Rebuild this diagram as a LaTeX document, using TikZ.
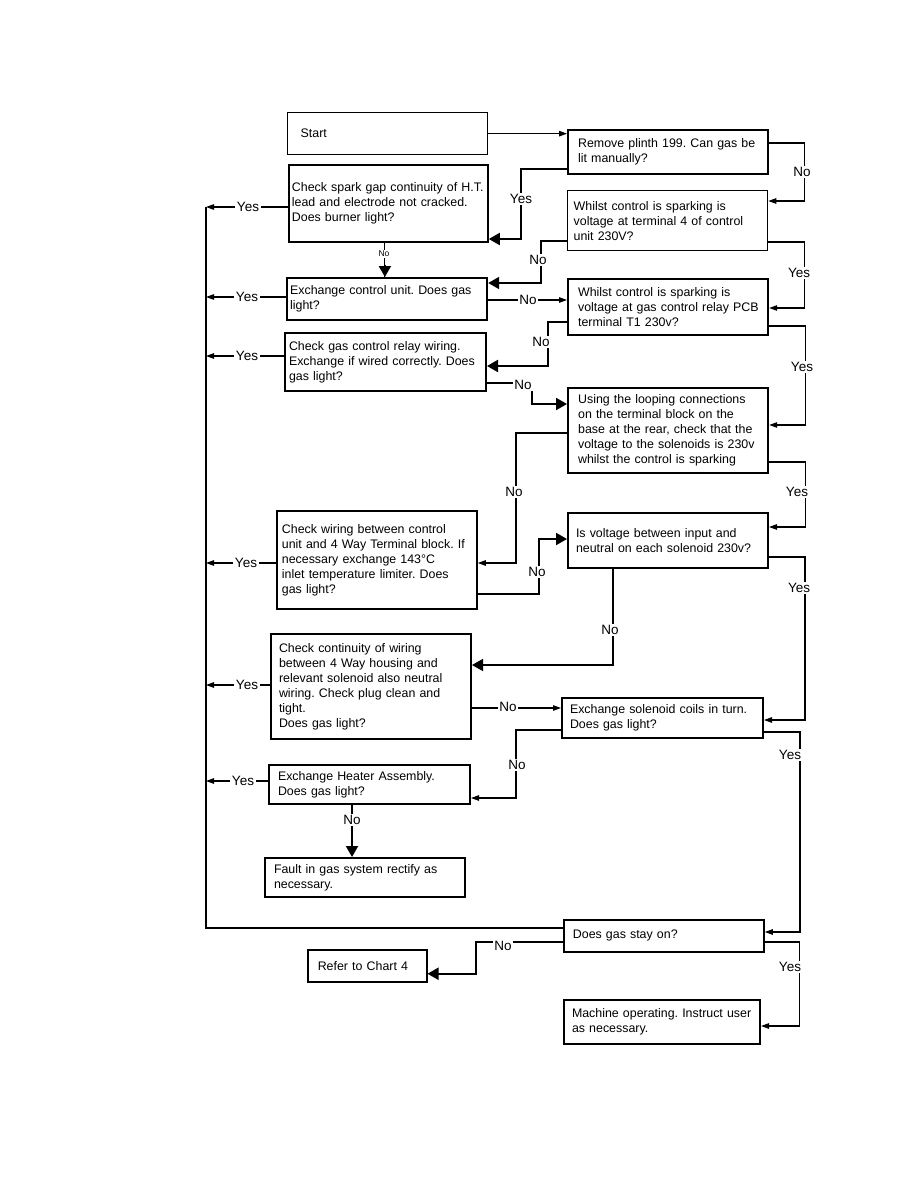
\documentclass[tikz,border=0pt]{standalone}
\usepackage{fontspec}
\setmainfont{Liberation Sans}
\usetikzlibrary{arrows.meta}
\newcommand\TL[1]{\mbox{#1}}
\frenchspacing
\begin{document}
\begin{tikzpicture}[x=1pt,y=-1pt,
  bx/.style={draw=black, line width=#1, rectangle, anchor=north west, align=left,
    font=\fontsize{12.4}{15}\selectfont, inner ysep=2pt},
  lbl/.style={fill=white, inner sep=1.5pt, font=\fontsize{13.5}{15}\selectfont},
  sml/.style={fill=white, inner sep=1pt, font=\fontsize{8.5}{10}\selectfont},
  cn/.style={line width=1.1pt, -{Triangle[length=8pt,width=5.5pt]}},
  ck/.style={line width=2pt, -{Triangle[length=11pt,width=12pt]}},
  ln/.style={line width=1.1pt}]
\useasboundingbox (0,0) rectangle (918,1188);

% boxes
\node[bx=1.3pt, minimum width=200pt, minimum height=42pt, inner xsep=13pt, text width=174pt] (St) at (287,112) {\TL{Start}};
\node[bx=2.2pt, minimum width=200pt, minimum height=44pt, inner xsep=10pt, text width=180pt] (R1) at (567,129) {\TL{Remove plinth 199. Can gas be}\\\TL{lit manually?}};
\node[bx=1.8pt, minimum width=199pt, minimum height=77pt, inner xsep=3pt, text width=193pt] (C1) at (288,164) {\TL{Check spark gap continuity of H.T.}\\\TL{lead and electrode not cracked.}\\\TL{Does burner light?}};
\node[bx=1.3pt, minimum width=200pt, minimum height=60pt, inner xsep=6pt, text width=188pt] (W1) at (567,190) {\TL{Whilst control is sparking is}\\\TL{voltage at terminal 4 of control}\\\TL{unit 230V?}};
\node[bx=2.2pt, minimum width=200pt, minimum height=42pt, inner xsep=3pt, text width=194pt] (E1) at (286,277) {\TL{Exchange control unit. Does gas}\\\TL{light?}};
\node[bx=2.2pt, minimum width=200pt, minimum height=56pt, inner xsep=10pt, text width=180pt] (W2) at (567,278) {\TL{Whilst control is sparking is}\\\TL{voltage at gas control relay PCB}\\\TL{terminal T1 230v?}};
\node[bx=2pt, minimum width=201pt, minimum height=58pt, inner xsep=4pt, text width=193pt] (C2) at (284,332) {\TL{Check gas control relay wiring.}\\\TL{Exchange if wired correctly. Does}\\\TL{gas light?}};
\node[bx=2.2pt, minimum width=200pt, minimum height=85pt, inner xsep=10pt, text width=180pt] (U) at (567,387) {\TL{Using the looping connections}\\\TL{on the terminal block on the}\\\TL{base at the rear, check that the}\\\TL{voltage to the solenoids is 230v}\\\TL{whilst the control is sparking}};
\node[bx=2pt, minimum width=200pt, minimum height=55pt, inner xsep=8pt, text width=184pt] (I) at (567,512) {\TL{Is voltage between input and}\\\TL{neutral on each solenoid 230v?}};
\node[bx=1.8pt, minimum width=200pt, minimum height=98pt, inner xsep=5pt, text width=190pt] (C3) at (276,510) {\TL{Check wiring between control}\\\TL{unit and 4 Way Terminal block. If}\\\TL{necessary exchange 143°C}\\\TL{inlet temperature limiter. Does}\\\TL{gas light?}};
\node[bx=2pt, minimum width=200pt, minimum height=105pt, inner xsep=8pt, text width=184pt] (C4) at (270,633) {\TL{Check continuity of wiring}\\\TL{between 4 Way housing and}\\\TL{relevant solenoid also neutral}\\\TL{wiring. Check plug clean and}\\\TL{tight.}\\\TL{Does gas light?}};
\node[bx=2pt, minimum width=201pt, minimum height=40pt, inner xsep=8pt, text width=185pt] (S) at (561,697) {\TL{Exchange solenoid coils in turn.}\\\TL{Does gas light?}};
\node[bx=2pt, minimum width=201pt, minimum height=39pt, inner xsep=9pt, text width=183pt] (H) at (268,764) {\TL{Exchange Heater Assembly.}\\\TL{Does gas light?}};
\node[bx=2pt, minimum width=200pt, minimum height=39pt, inner xsep=9pt, text width=182pt] (F) at (264,857) {\TL{Fault in gas system rectify as}\\\TL{necessary.}};
\node[bx=1.8pt, minimum width=200pt, minimum height=32pt, inner xsep=9pt, text width=182pt] (D) at (563,919) {\TL{Does gas stay on?}};
\node[bx=1.5pt, minimum width=119pt, minimum height=32pt, inner xsep=10pt, text width=99pt] (Rf) at (307,949) {\TL{Refer to Chart 4}};
\node[bx=2pt, minimum width=196pt, minimum height=44pt, inner xsep=8pt, text width=180pt] (M) at (563,999) {\TL{Machine operating. Instruct user}\\\TL{as necessary.}};

% bus
\coordinate (busT) at (206,207);
\coordinate (busB) at (206,928);
\draw[ln] (busT) -- (busB) -- ([yshift=-9pt]D.north west);

% connectors
\draw[cn] (St.east) -- (St.east -| R1.west);
\draw[cn] ([yshift=-14pt]R1.north east) -- ++(35,0) |- ([yshift=-11pt]W1.north east);
\draw[ck] ([yshift=-40pt]R1.north west) -- ++(-46,0) |- ([yshift=-75pt]C1.north east);
\draw[ln] ([xshift=-3.5pt]C1.south) -- ([xshift=-3.5pt]C1.south |- E1.north);
\draw[ck] ([xshift=-3.5pt,yshift=-22pt]C1.south) -- ([xshift=-3.5pt]C1.south |- E1.north);
\draw[ck] ([yshift=-51pt]W1.north west) -- ++(-26,0) |- ([yshift=-6pt]E1.north east);
\draw[cn] ([yshift=-52pt]W1.north east) -- ++(36,0) |- ([yshift=-30pt]W2.north east);
\draw[cn] ([yshift=-23pt]E1.north east) -- ([yshift=-22pt]W2.north west);
\draw[ck] ([yshift=-44pt]W2.north west) -- ++(-19,0) |- ([yshift=-34pt]C2.north east);
\draw[cn] ([yshift=-48pt]W2.north east) -- ++(36,0) |- ([yshift=-38pt]U.north east);
\draw[ck] ([yshift=-51pt]C2.north east) -| ([xshift=-35pt,yshift=-17pt]U.north west) -- ([yshift=-17pt]U.north west);
\draw[cn] ([yshift=-46pt]U.north west) -- ++(-51,0) |- ([yshift=-53pt]C3.north east);
\draw[cn] ([yshift=-75pt]U.north east) -- ++(36,0) |- ([yshift=-15pt]I.north east);
\draw[ck] ([yshift=-84pt]C3.north east) -- ++(61,0) |- ([yshift=-27pt]I.north west);
\draw[ck, line width=1.5pt] ([xshift=46pt]I.south west) |- ([yshift=-32pt]C4.north east);
\draw[cn] ([yshift=-45pt]I.north east) -- ++(36,0) |- ([yshift=-23pt]S.north east);
\draw[cn] ([yshift=-75pt]C4.north east) -- ([yshift=-11pt]S.north west);
\draw[cn] ([yshift=-33pt]S.north west) -- ++(-45,0) |- ([yshift=-34pt]H.north east);
\draw[cn] ([yshift=-35pt]S.north east) -- ++(36,0) |- ([yshift=-13pt]D.north east);
\draw[ck] ([xshift=84pt]H.south west) -- ([xshift=84pt]H.south west |- F.north);
\draw[ck] ([yshift=-23pt]D.north west) -- ++(-87,0) |- ([yshift=-8pt]Rf.east);
\draw[cn] ([yshift=-23pt]D.north east) -- ++(35,0) |- ([yshift=-27pt]M.north east);

% yes arrows to bus
\draw[cn] ([yshift=-43pt]C1.north west) -- ([yshift=-43pt]C1.north west -| busT);
\draw[cn] ([yshift=-20pt]E1.north west) -- ([yshift=-20pt]E1.north west -| busT);
\draw[cn] ([yshift=-24pt]C2.north west) -- ([yshift=-24pt]C2.north west -| busT);
\draw[cn] ([yshift=-53pt]C3.north west) -- ([yshift=-53pt]C3.north west -| busT);
\draw[cn] ([yshift=-52pt]C4.north west) -- ([yshift=-52pt]C4.north west -| busT);
\draw[cn] ([yshift=-17pt]H.north west) -- ([yshift=-17pt]H.north west -| busT);

% labels
\node[lbl] (yC1) at (248,207) {Yes};
\node[lbl] (yE1) at (247,297) {Yes};
\node[lbl] (yC2) at (247,356) {Yes};
\node[lbl] (yC3) at (246,563) {Yes};
\node[lbl] (yC4) at (247,685) {Yes};
\node[lbl] (yH) at (243,781) {Yes};
\node[lbl] (nR1) at (802,172) {No};
\node[lbl] (yR1) at (521,199) {Yes};
\node[sml] (nC1) at (384,254) {No};
\node[lbl] (nW1) at (538,260) {No};
\node[lbl] (yW1) at (799,273) {Yes};
\node[lbl] (nE1) at (528,300) {No};
\node[lbl] (nW2) at (541,342) {No};
\node[lbl] (yW2) at (802,367) {Yes};
\node[lbl] (nC2) at (523,385) {No};
\node[lbl] (nU) at (514,492) {No};
\node[lbl] (yU) at (797,492) {Yes};
\node[lbl] (nC3) at (537,572) {No};
\node[lbl] (yI) at (799,588) {Yes};
\node[lbl] (nI) at (610,630) {No};
\node[lbl] (nC4) at (508,707) {No};
\node[lbl] (yS) at (790,755) {Yes};
\node[lbl] (nS) at (517,765) {No};
\node[lbl] (nH) at (352,820) {No};
\node[lbl] (nD) at (503,946) {No};
\node[lbl] (yD) at (790,967) {Yes};
\end{tikzpicture}
\end{document}
